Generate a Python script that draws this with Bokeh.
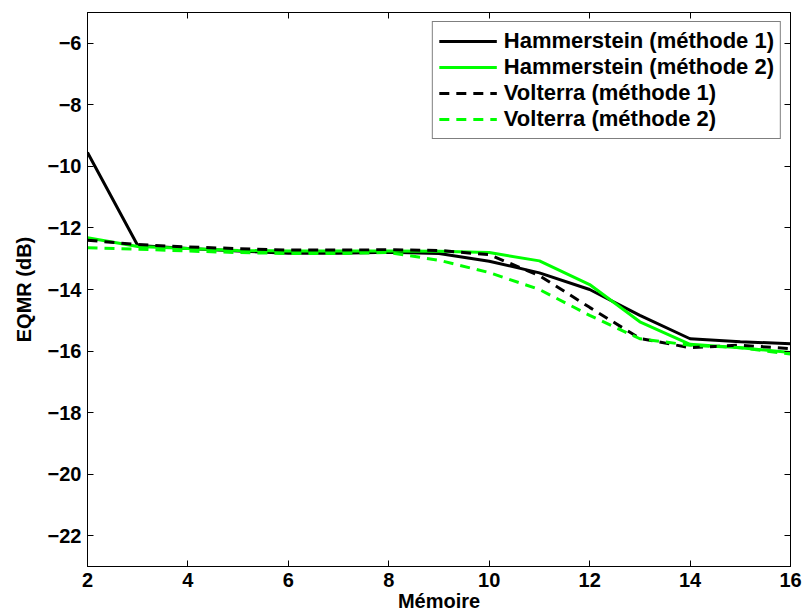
from bokeh.plotting import figure
from bokeh.models import LinearAxis, Range1d, FixedTicker, CustomJSTickFormatter, Legend, LegendItem
from bokeh.embed import file_html
from bokeh.resources import INLINE

memoire = [2, 3, 4, 5, 6, 7, 8, 9, 10, 11, 12, 13, 14, 15, 16]
hammerstein_m1 = [-9.55, -12.57, -12.67, -12.75, -12.82, -12.82, -12.79, -12.83, -13.08, -13.46, -14.0, -14.84, -15.6, -15.7, -15.76]
hammerstein_m2 = [-12.32, -12.6, -12.67, -12.73, -12.75, -12.75, -12.75, -12.76, -12.8, -13.07, -13.84, -15.05, -15.78, -15.89, -16.05]
volterra_m1 = [-12.4, -12.54, -12.62, -12.67, -12.72, -12.72, -12.71, -12.73, -12.87, -13.55, -14.58, -15.59, -15.89, -15.81, -15.92]
volterra_m2 = [-12.64, -12.69, -12.75, -12.8, -12.83, -12.83, -12.8, -13.05, -13.45, -14.0, -14.84, -15.6, -15.81, -15.89, -16.1]

x_ticks = [2, 4, 6, 8, 10, 12, 14, 16]
y_ticks = [-22, -20, -18, -16, -14, -12, -10, -8, -6]

FONT = "Liberation Sans"
FS = "20px"

p = figure(width=804, height=614, output_backend="svg", toolbar_location=None,
           x_range=Range1d(2, 16), y_range=Range1d(-23, -5),
           min_border_left=87, min_border_right=14, min_border_top=12, min_border_bottom=48)
p.xgrid.visible = False
p.ygrid.visible = False
p.outline_line_color = "black"
p.outline_line_width = 1
p.background_fill_color = "white"
p.border_fill_color = "white"

fmt = CustomJSTickFormatter(code="return tick.toString().replace('-', '\u2212');")
blank = CustomJSTickFormatter(code="return '';")

def style_axis(ax, labels=True):
    ax.axis_line_color = "black"
    ax.major_tick_in = 6
    ax.major_tick_out = 0
    ax.minor_tick_line_color = None
    ax.major_tick_line_color = "black"
    ax.major_label_text_font = FONT
    ax.major_label_text_font_style = "bold"
    ax.major_label_text_color = "black"
    ax.axis_label_text_font = FONT
    ax.axis_label_text_font_style = "bold"
    ax.axis_label_text_color = "black"
    ax.major_label_text_font_size = FS
    ax.axis_label_text_font_size = FS
    if not labels:
        ax.formatter = blank
        ax.major_label_standoff = 0

p.xaxis.ticker = FixedTicker(ticks=x_ticks)
p.yaxis.ticker = FixedTicker(ticks=y_ticks)
p.yaxis.formatter = fmt
p.xaxis.axis_label = "Mémoire"
p.yaxis.axis_label = "EQMR (dB)"
style_axis(p.xaxis[0])
style_axis(p.yaxis[0])
p.xaxis.major_label_standoff = 6
p.xaxis.axis_label_standoff = 0
p.yaxis.major_label_standoff = 6
p.yaxis.axis_label_standoff = 10

ax_r = LinearAxis(ticker=FixedTicker(ticks=y_ticks))
style_axis(ax_r, labels=False)
p.add_layout(ax_r, "right")
ax_t = LinearAxis(ticker=FixedTicker(ticks=x_ticks))
style_axis(ax_t, labels=False)
p.add_layout(ax_t, "above")

LW = 3
DASH = "10 7"
r1 = p.line(memoire, hammerstein_m1, line_color="black", line_width=LW)
r2 = p.line(memoire, hammerstein_m2, line_color="#00ff00", line_width=LW)
r3 = p.line(memoire, volterra_m1, line_color="black", line_width=LW, line_dash=DASH)
r4 = p.line(memoire, volterra_m2, line_color="#00ff00", line_width=LW, line_dash=DASH)

legend = Legend(items=[
    LegendItem(label="Hammerstein (méthode 1)", renderers=[r1]),
    LegendItem(label="Hammerstein (méthode 2)", renderers=[r2]),
    LegendItem(label="Volterra (méthode 1)", renderers=[r3]),
    LegendItem(label="Volterra (méthode 2)", renderers=[r4]),
], location="top_right")
legend.label_text_font = FONT
legend.label_text_font_style = "bold"
legend.label_text_font_size = "22px"
legend.label_text_color = "black"
legend.glyph_width = 58
legend.glyph_height = 20
legend.label_height = 20
legend.label_standoff = 7
legend.spacing = 0
legend.padding = 6
legend.margin = 9
legend.border_line_color = "black"
legend.border_line_width = 1
legend.background_fill_alpha = 1
p.add_layout(legend)

open("out.html", "w").write(file_html(p, INLINE))
